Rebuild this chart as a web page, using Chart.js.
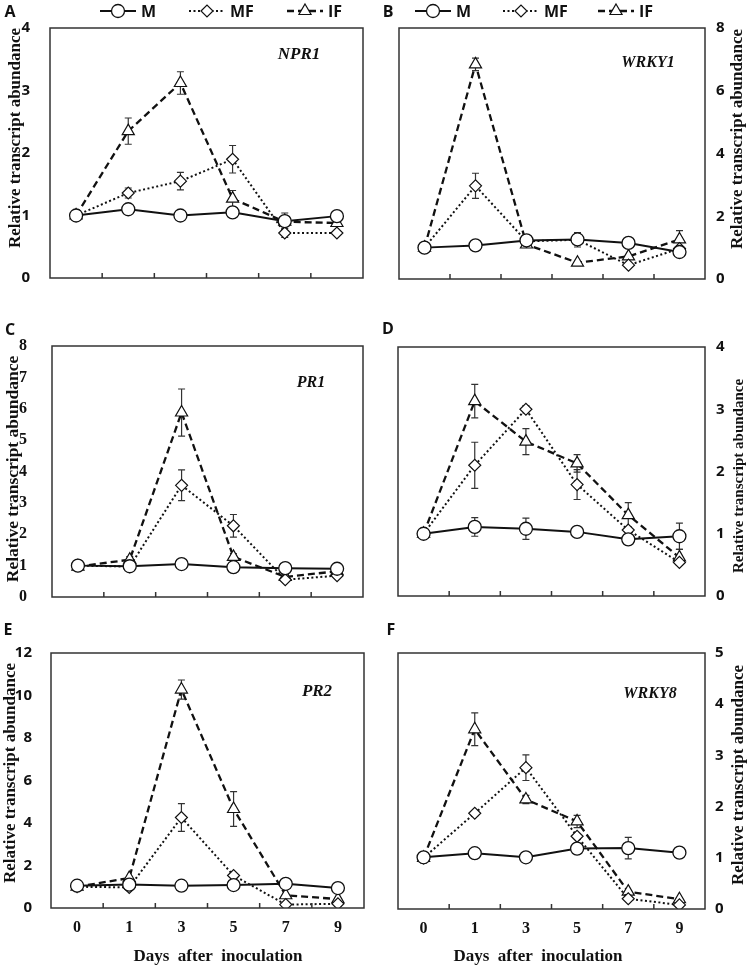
<!DOCTYPE html>
<html>
<head>
<meta charset="utf-8">
<script src="https://cdn.jsdelivr.net/npm/chart.js@4.4.0/dist/chart.umd.min.js"></script>
<style>
  body { margin: 0; background: #fff; width: 750px; height: 969px; position: relative; overflow: hidden; }
  canvas { position: absolute; }
</style>
</head>
<body>
<canvas id="pA" width="375" height="300" style="left:0;top:0"></canvas>
<canvas id="pB" width="375" height="300" style="left:375px;top:0"></canvas>
<canvas id="pC" width="375" height="320" style="left:0;top:300px"></canvas>
<canvas id="pD" width="375" height="320" style="left:375px;top:300px"></canvas>
<canvas id="pE" width="375" height="349" style="left:0;top:620px"></canvas>
<canvas id="pF" width="375" height="349" style="left:375px;top:620px"></canvas>
<script>
// --- dati ---
const days = ['0', '1', '3', '5', '7', '9'];
const seriesNames = ['M', 'MF', 'IF'];

// A - NPR1
const npr1M = [1.00, 1.10, 1.00, 1.05, 0.91, 0.99];
const npr1MF = [1.00, 1.36, 1.55, 1.90, 0.72, 0.72];
const npr1IF = [1.00, 2.35, 3.12, 1.27, 0.90, 0.88];
const npr1MErr = [0, 0.06, 0, 0, 0.04, 0];
const npr1MFErr = [0, 0.08, 0.14, 0.22, 0.07, 0];
const npr1IFErr = [0, 0.21, 0.18, 0.13, 0.14, 0.05];

// B - WRKY1
const wrky1M = [1.00, 1.07, 1.23, 1.26, 1.15, 0.86];
const wrky1MF = [1.00, 2.97, 1.20, 1.25, 0.44, 0.97];
const wrky1IF = [1.00, 6.84, 1.10, 0.52, 0.72, 1.26];
const wrky1MErr = [0, 0, 0, 0.05, 0.05, 0];
const wrky1MFErr = [0, 0.40, 0, 0.23, 0.05, 0];
const wrky1IFErr = [0, 0.20, 0, 0, 0.05, 0.28];

// C - PR1
const pr1M = [1.00, 0.98, 1.05, 0.95, 0.92, 0.90];
const pr1MF = [1.00, 0.97, 3.56, 2.27, 0.55, 0.68];
const pr1IF = [0.97, 1.19, 5.88, 1.28, 0.64, 0.82];
const pr1MErr = [0.05, 0.10, 0, 0, 0, 0.05];
const pr1MFErr = [0, 0.08, 0.49, 0.36, 0.05, 0.05];
const pr1IFErr = [0, 0.10, 0.75, 0.10, 0.08, 0.05];

// D - (senza nome)
const dM = [1.00, 1.11, 1.08, 1.03, 0.91, 0.96];
const dMF = [1.00, 2.10, 3.00, 1.79, 1.06, 0.54];
const dIF = [1.00, 3.13, 2.48, 2.13, 1.30, 0.62];
const dMErr = [0, 0.15, 0.17, 0, 0, 0.21];
const dMFErr = [0, 0.37, 0.06, 0.24, 0.05, 0.05];
const dIFErr = [0, 0.27, 0.21, 0.14, 0.20, 0.13];

// E - PR2
const pr2M = [1.05, 1.10, 1.05, 1.08, 1.14, 0.94];
const pr2MF = [1.00, 0.97, 4.26, 1.53, 0.16, 0.20];
const pr2IF = [1.00, 1.41, 10.28, 4.66, 0.60, 0.42];
const pr2MErr = [0.10, 0, 0, 0, 0, 0];
const pr2MFErr = [0, 0, 0.65, 0, 0, 0];
const pr2IFErr = [0.10, 0, 0.45, 0.82, 0, 0];

// F - WRKY8
const wrky8M = [1.01, 1.09, 1.01, 1.18, 1.19, 1.10];
const wrky8MF = [1.00, 1.87, 2.76, 1.42, 0.20, 0.08];
const wrky8IF = [1.00, 3.51, 2.14, 1.71, 0.34, 0.19];
const wrky8MErr = [0.10, 0.07, 0, 0.10, 0.21, 0];
const wrky8MFErr = [0, 0.05, 0.25, 0, 0, 0];
const wrky8IFErr = [0.10, 0.32, 0.08, 0.12, 0, 0];

const INK = '#111';
const SANS = '"Open Sans", "DejaVu Sans", sans-serif';
const SERIF = '"Liberation Serif", "DejaVu Serif", serif';

// --- plugin: barre d'errore, cornice, etichette ---
const decor = {
    id: 'decor',
    beforeDatasetsDraw(chart) {
        const { ctx, scales: { x, y } } = chart;
        ctx.save();
        ctx.strokeStyle = '#333';
        ctx.lineWidth = 1.2;
        chart.data.datasets.forEach(ds => {
            (ds.errors || []).forEach((e, j) => {
                if (!e) return;
                const px = x.getPixelForValue(j);
                const top = y.getPixelForValue(ds.data[j] + e);
                const bot = y.getPixelForValue(ds.data[j] - e);
                ctx.beginPath();
                ctx.moveTo(px, top); ctx.lineTo(px, bot);
                ctx.moveTo(px - 3.5, top); ctx.lineTo(px + 3.5, top);
                ctx.moveTo(px - 3.5, bot); ctx.lineTo(px + 3.5, bot);
                ctx.stroke();
            });
        });
        ctx.restore();
    },
    afterDraw(chart, args, o) {
        const { ctx, chartArea: a, scales: { x } } = chart;
        ctx.save();
        // cornice
        ctx.strokeStyle = '#333';
        ctx.lineWidth = 1.5;
        ctx.strokeRect(a.left, a.top, a.right - a.left, a.bottom - a.top);
        // tacche interne tra le categorie
        ctx.beginPath();
        for (let i = 1; i < days.length; i++) {
            const px = (x.getPixelForValue(i - 1) + x.getPixelForValue(i)) / 2;
            ctx.moveTo(px, a.bottom);
            ctx.lineTo(px, a.bottom - 5);
        }
        ctx.stroke();

        ctx.fillStyle = INK;
        // lettera del pannello
        ctx.font = `bold 16px ${SANS}`;
        ctx.textAlign = 'center';
        ctx.textBaseline = 'middle';
        ctx.fillText(o.letter, o.letterX, o.letterY);
        // nome del gene
        if (o.gene) {
            ctx.font = `italic bold ${o.geneSize}px ${SERIF}`;
            ctx.fillText(o.gene, o.geneX, o.geneY);
        }
        // titolo asse y (ruotato, dal basso verso l'alto)
        ctx.save();
        ctx.translate(o.titleX, o.titleY);
        ctx.rotate(-Math.PI / 2);
        ctx.font = `bold ${o.titleSize}px ${SERIF}`;
        ctx.fillText('Relative transcript abundance', 0, 0);
        ctx.restore();
        // titolo asse x
        if (o.xTitle) {
            ctx.font = `bold 17px ${SERIF}`;
            ctx.fillText('Days  after  inoculation', o.xTitleX, o.xTitleY);
        }
        // legenda
        if (o.legend) {
            chart.data.datasets.forEach((ds, i) => {
                const x0 = o.legend[i], len = 36, ly = o.legendY;
                ctx.save();
                ctx.strokeStyle = INK;
                ctx.lineWidth = ds.borderWidth;
                ctx.setLineDash(ds.borderDash || []);
                ctx.beginPath();
                ctx.moveTo(x0, ly); ctx.lineTo(x0 + len, ly);
                ctx.stroke();
                ctx.setLineDash([]);
                ctx.fillStyle = '#fff';
                ctx.lineWidth = ds.pointBorderWidth;
                Chart.helpers.drawPoint(ctx, { pointStyle: ds.pointStyle, radius: ds.pointRadius, borderWidth: ds.pointBorderWidth, rotation: 0 }, x0 + len / 2, ly);
                ctx.fillStyle = INK;
                ctx.font = `bold 16px ${SANS}`;
                ctx.textAlign = 'left';
                ctx.fillText(ds.label, x0 + len + 5, ly + 1);
                ctx.restore();
            });
        }
        ctx.restore();
    }
};

function makeSets(m, mf, inf, mErr, mfErr, ifErr) {
    return [
        { label: seriesNames[0], data: m, errors: mErr, borderColor: INK, borderWidth: 2, pointStyle: 'circle', pointRadius: 6.5, pointBorderWidth: 1.3, pointBackgroundColor: '#fff', pointBorderColor: INK },
        { label: seriesNames[1], data: mf, errors: mfErr, borderColor: INK, borderWidth: 2, borderDash: [2, 2.5], pointStyle: 'rectRot', pointRadius: 6, pointBorderWidth: 1.2, pointBackgroundColor: '#fff', pointBorderColor: INK },
        { label: seriesNames[2], data: inf, errors: ifErr, borderColor: INK, borderWidth: 2.3, borderDash: [7, 4], pointStyle: 'triangle', pointRadius: 7, pointBorderWidth: 1.2, pointBackgroundColor: '#fff', pointBorderColor: INK }
    ];
}

function makePanel(id, sets, p) {
    const right = p.side === 'right';
    new Chart(document.getElementById(id), {
        type: 'line',
        data: { labels: days, datasets: sets },
        options: {
            responsive: false, animation: false,
            layout: { padding: p.pad },
            scales: {
                x: {
                    type: 'category', offset: true,
                    grid: { display: false, drawTicks: false }, border: { display: false },
                    ticks: { display: !!p.xTitle, color: INK, padding: 10, font: { family: SERIF, weight: 'bold', size: 16 } },
                    afterFit(s) { s.height = p.xh; }
                },
                y: {
                    position: right ? 'right' : 'left', min: 0, max: p.max,
                    grid: { display: false, drawTicks: false }, border: { display: false },
                    ticks: { stepSize: p.step, color: INK, padding: p.tickPad, font: p.tickFont },
                    // la larghezza è fissa; niente spazio extra sopra/sotto per le etichette
                    afterFit(s) { s.width = p.yw; s.paddingTop = 0; s.paddingBottom = 0; }
                }
            },
            plugins: { legend: { display: false }, tooltip: { enabled: false }, decor: p }
        },
        plugins: [decor]
    });
}

const sansTicks = { family: SANS, weight: 'bold', size: 15 };
const serifTicks = { family: SERIF, weight: 'bold', size: 16 };

makePanel('pA', makeSets(npr1M, npr1MF, npr1IF, npr1MErr, npr1MFErr, npr1IFErr), {
    side: 'left', max: 4, step: 1, tickFont: sansTicks, tickPad: 20, yw: 50, xh: 22,
    pad: { left: 0, right: 12, top: 28, bottom: 0 },
    letter: 'A', letterX: 10, letterY: 12, gene: 'NPR1', geneSize: 17, geneX: 299, geneY: 55,
    titleX: 16, titleY: 138, titleSize: 17, legend: [100, 189, 287], legendY: 11
});
makePanel('pB', makeSets(wrky1M, wrky1MF, wrky1IF, wrky1MErr, wrky1MFErr, wrky1IFErr), {
    side: 'right', max: 8, step: 2, tickFont: sansTicks, tickPad: 11, yw: 45, xh: 21,
    pad: { left: 24, right: 0, top: 28, bottom: 0 },
    letter: 'B', letterX: 13, letterY: 12, gene: 'WRKY1', geneSize: 16, geneX: 273, geneY: 63,
    titleX: 363, titleY: 139, titleSize: 17, legend: [40, 128, 223], legendY: 11
});
makePanel('pC', makeSets(pr1M, pr1MF, pr1IF, pr1MErr, pr1MFErr, pr1IFErr), {
    side: 'left', max: 8, step: 1, tickFont: serifTicks, tickPad: 25, yw: 52, xh: 23,
    pad: { left: 0, right: 12, top: 46, bottom: 0 },
    letter: 'C', letterX: 10, letterY: 30, gene: 'PR1', geneSize: 16, geneX: 311, geneY: 83,
    titleX: 13, titleY: 169, titleSize: 17.5
});
makePanel('pD', makeSets(dM, dMF, dIF, dMErr, dMFErr, dIFErr), {
    side: 'right', max: 4, step: 1, tickFont: sansTicks, tickPad: 11, yw: 45, xh: 24,
    pad: { left: 23, right: 0, top: 47, bottom: 0 },
    letter: 'D', letterX: 13, letterY: 29,
    titleX: 364, titleY: 176, titleSize: 15
});
makePanel('pE', makeSets(pr2M, pr2MF, pr2IF, pr2MErr, pr2MFErr, pr2IFErr), {
    side: 'left', max: 12, step: 2, tickFont: sansTicks, tickPad: 19, yw: 51, xh: 61,
    pad: { left: 0, right: 11, top: 33, bottom: 0 },
    letter: 'E', letterX: 8, letterY: 10, gene: 'PR2', geneSize: 17, geneX: 317, geneY: 72,
    titleX: 11, titleY: 153, titleSize: 17, xTitle: true, xTitleX: 218, xTitleY: 337
});
makePanel('pF', makeSets(wrky8M, wrky8MF, wrky8IF, wrky8MErr, wrky8MFErr, wrky8IFErr), {
    side: 'right', max: 5, step: 1, tickFont: sansTicks, tickPad: 10, yw: 45, xh: 60,
    pad: { left: 23, right: 0, top: 33, bottom: 0 },
    letter: 'F', letterX: 16, letterY: 10, gene: 'WRKY8', geneSize: 16, geneX: 275, geneY: 74,
    titleX: 364, titleY: 155, titleSize: 17, xTitle: true, xTitleX: 163, xTitleY: 337
});
</script>
</body>
</html>
